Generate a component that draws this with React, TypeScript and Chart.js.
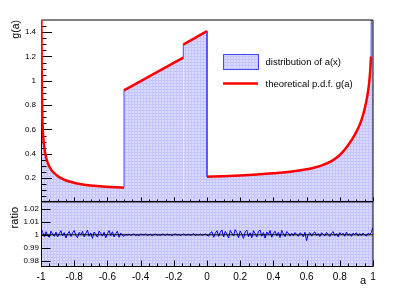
import { useEffect, useRef } from "react";
import { Chart, registerables } from "chart.js";
Chart.register(...registerables);

const W = 415;
const H = 289;
const FONT = "'Liberation Sans', Arial, Helvetica, sans-serif";

// theoretical p.d.f. g(a), piecewise
const curveLeftA = [-0.998, -0.996, -0.994, -0.992, -0.989, -0.985, -0.98, -0.974, -0.966, -0.955, -0.94, -0.92, -0.895, -0.865, -0.83, -0.79, -0.74, -0.68, -0.61, -0.55, -0.5];
const curveLeftG = [1.5, 1.12, 0.86, 0.71, 0.6, 0.515, 0.452, 0.4, 0.353, 0.31, 0.272, 0.24, 0.212, 0.19, 0.172, 0.158, 0.146, 0.137, 0.129, 0.124, 0.121];
const curveMid1A = [-0.5, -0.143];
const curveMid1G = [0.922, 1.19];
const curveMid2A = [-0.143, 0];
const curveMid2G = [1.297, 1.409];
const curveRightA = [0, 0.1, 0.2, 0.3, 0.4, 0.5, 0.6, 0.65, 0.7, 0.75, 0.8, 0.85, 0.9, 0.93, 0.95, 0.965, 0.975, 0.983, 0.988];
const curveRightG = [0.211, 0.215, 0.221, 0.229, 0.239, 0.252, 0.272, 0.287, 0.308, 0.34, 0.39, 0.47, 0.58, 0.675, 0.77, 0.87, 0.96, 1.08, 1.2];

// distribution of a(x): same shape, edge bins overflow the frame
const histLeftEdgeA = [-1];
const histLeftEdgeG = [1.6];
const histRightEdgeA = [0.99, 1];
const histRightEdgeG = [1.6, 1.6];

// ratio distribution / theory, bins of 0.01 from -1 to 1
const ratioStart = -1;
const ratioStep = 0.01;
const ratioA = [1.0055, 1.0018, 0.9986, 1.0024, 0.9994, 0.998, 1.0028, 1.0006, 0.9988, 1.0022, 0.9983, 1.001, 1.0032, 0.9991, 1.0017, 0.9975, 1.0008, 1.0026, 0.9987, 1.0015, 1.0034, 0.9995, 0.9978, 1.0019, 0.9998, 1.0027, 0.9984, 1.0011, 1.0036, 0.9989, 1.0015, 0.9973, 1.0022, 1.0003, 0.9982, 1.003, 1.0012, 0.999, 1.002, 0.9977, 1.0009, 1.0033, 0.9994, 1.0024, 0.9984, 1.0008, 1.0028, 0.9981, 1.0014, 0.9997, 0.9988];
const ratioB = [1.0004, 0.9997, 1.0006, 0.9995, 1.0002, 1.0007, 0.9996, 1.0001, 0.9994, 1.0005, 1.0003, 0.9998, 1.0008, 0.9995, 1, 1.0004, 0.9993, 1.0002, 1.0006, 0.9997, 1.0001, 0.9995, 1.0005, 1.0003, 0.9996, 1.0007, 0.9999, 1.0002, 0.9994, 1.0004, 1.0006, 0.9998, 1.0003, 0.9995, 1.0001, 1.0008, 0.9997, 1, 1.0005, 0.9996, 1.0002, 1.0009, 0.9994, 1.0003, 0.9998, 1.0006, 0.9996, 1.0001, 1.0007, 0.9997];
const ratioC = [0.999, 1.0016, 1.0024, 0.9981, 1.0012, 1.0032, 0.9988, 1.0021, 1.0038, 0.9983, 1.0027, 1.0006, 0.9975, 1.0034, 1.0013, 0.9991, 1.004, 1.0017, 0.9978, 1.003, 1.0005, 0.9972, 1.0024, 1.0036, 0.9986, 1.0016, 0.9977, 1.0032, 1.0009, 0.9984, 1.0027, 1.0037, 0.9989, 1.0018, 0.9974, 1.0022, 1.0003, 1.0033, 0.9981, 1.0012, 1.0028, 0.9993, 1.0019, 0.9979, 1.0035, 1.0008, 0.9985, 1.0025, 1.0014, 0.999];
const ratioD = [1.0012, 0.9992, 1.0018, 1.0002, 0.9988, 1.0015, 1.0007, 0.9985, 1.002, 0.9955, 1.0005, 1.0017, 0.999, 1.0013, 1.0023, 0.9994, 1.001, 0.9986, 1.0016, 1.0004, 0.9991, 1.0019, 1.0001, 0.9987, 1.0014, 1.0025, 0.9993, 1.0009, 0.9985, 1.0017, 1.0002, 1.0012, 0.9989, 1.0021, 0.9996, 1.0008, 0.9988, 1.0013, 1.0003, 1.0016, 0.9992, 1.001, 0.9994, 1.0014, 1.0001, 0.9991, 1.0012, 1.0004, 1.0018, 1.0057];
const ratioValues = [...ratioA, ...ratioB, ...ratioC, ...ratioD];
const ratioRefA = [-1, 1];
const ratioRefV = [1, 1];

// axes
const xMin = -1;
const xMax = 1;
const yTopMin = 0;
const yTopMax = 1.5;
const yRatioMin = 0.975;
const yRatioMax = 1.0255;
const xTicks = [-1, -0.8, -0.6, -0.4, -0.2, 0, 0.2, 0.4, 0.6, 0.8, 1];
const yTopTicks = [0.2, 0.4, 0.6, 0.8, 1, 1.2, 1.4];
const yRatioTicks = [0.98, 0.99, 1, 1.01, 1.02];
const legendLabels = ["distribution of a(x)", "theoretical p.d.f. g(a)"];

const pts = (xs: number[], ys: number[]) => xs.map((x, i) => ({ x, y: ys[i] }));

function makePattern(): CanvasPattern | string {
  const c = document.createElement("canvas");
  c.width = 3;
  c.height = 3;
  const g = c.getContext("2d");
  if (!g) return "rgb(206,206,255)";
  g.fillStyle = "rgb(196,196,255)";
  g.fillRect(0, 0, 3, 3);
  g.fillStyle = "rgb(218,218,255)";
  g.fillRect(0, 0, 2, 2);
  return g.createPattern(c, "repeat") || "rgb(206,206,255)";
}

const HIST_LINE = "rgb(70,70,255)";
const RED = "#ff0000";

function drawFrame(ctx: CanvasRenderingContext2D, ca: any) {
  const l = Math.round(ca.left) + 0.5;
  const r = Math.round(ca.right);
  const t = ca.top;
  const b = Math.round(ca.bottom) - 0.5;
  ctx.save();
  ctx.strokeStyle = "#000";
  ctx.lineWidth = 1;
  ctx.beginPath();
  ctx.moveTo(l, t);
  ctx.lineTo(r, t);
  ctx.lineTo(r, b);
  ctx.lineTo(l, b);
  ctx.closePath();
  ctx.stroke();
  ctx.restore();
}

function drawXTicks(ctx: CanvasRenderingContext2D, chart: any, majorLen: number, minorLen: number) {
  const xs = chart.scales.x;
  const yb = Math.round(chart.chartArea.bottom) - 0.5;
  ctx.save();
  ctx.strokeStyle = "#000";
  ctx.lineWidth = 1;
  ctx.beginPath();
  for (let k = 0; k <= 40; k++) {
    const v = xMin + k * 0.05;
    const px = Math.round(xs.getPixelForValue(v)) + 0.5;
    const len = k % 4 === 0 ? majorLen : minorLen;
    ctx.moveTo(px, yb);
    ctx.lineTo(px, yb - len);
  }
  ctx.stroke();
  ctx.restore();
}

export default function App() {
  const topRef = useRef<HTMLCanvasElement>(null);
  const botRef = useRef<HTMLCanvasElement>(null);

  useEffect(() => {
    document.body.style.margin = "0";
    const pattern = makePattern();

    const topPlugin = {
      id: "topDeco",
      afterDatasetDraw(chart: any, args: any) {
        if (chart.data.datasets[args.index].label !== "jumps") return;
        const { ctx, chartArea: ca } = chart;
        drawFrame(ctx, ca);
        const ys = chart.scales.y;
        const x0 = Math.round(ca.left);
        ctx.save();
        ctx.strokeStyle = "#000";
        ctx.lineWidth = 1;
        ctx.beginPath();
        for (let k = 1; k <= 29; k++) {
          const v = k * 0.05;
          const py = Math.round(ys.getPixelForValue(v)) + 0.5;
          const len = k % 4 === 0 ? 11 : 5.5;
          ctx.moveTo(x0, py);
          ctx.lineTo(x0 + len, py);
        }
        ctx.stroke();
        ctx.restore();
        drawXTicks(ctx, chart, 4, 2);
      },
      afterDraw(chart: any) {
        const { ctx, chartArea: ca } = chart;
        ctx.save();
        ctx.fillStyle = "#000";
        ctx.font = `10.5px ${FONT}`;
        ctx.translate(16, ca.top);
        ctx.rotate(-Math.PI / 2);
        ctx.textAlign = "right";
        ctx.textBaseline = "middle";
        ctx.fillText("g(a)", 0, 0);
        ctx.restore();
        // legend
        ctx.save();
        ctx.fillStyle = pattern as any;
        ctx.fillRect(223, 54, 35, 15);
        ctx.strokeStyle = HIST_LINE;
        ctx.lineWidth = 1;
        ctx.strokeRect(223.5, 54.5, 35, 15);
        ctx.strokeStyle = RED;
        ctx.lineWidth = 2.5;
        ctx.beginPath();
        ctx.moveTo(223, 83.5);
        ctx.lineTo(258, 83.5);
        ctx.stroke();
        ctx.fillStyle = "#000";
        ctx.font = `9.5px ${FONT}`;
        ctx.textAlign = "left";
        ctx.textBaseline = "middle";
        ctx.fillText(legendLabels[0], 265.5, 62);
        ctx.fillText(legendLabels[1], 265.5, 84);
        ctx.restore();
      },
    };

    const botPlugin = {
      id: "botDeco",
      beforeDatasetsDraw(chart: any) {
        const { ctx, chartArea: ca } = chart;
        ctx.save();
        ctx.fillStyle = pattern as any;
        ctx.fillRect(ca.left, ca.top, ca.right - ca.left, ca.bottom - ca.top);
        ctx.restore();
      },
      afterDraw(chart: any) {
        const { ctx, chartArea: ca } = chart;
        drawFrame(ctx, ca);
        const ys = chart.scales.y;
        const x0 = Math.round(ca.left);
        ctx.save();
        ctx.strokeStyle = "#000";
        ctx.lineWidth = 1;
        ctx.beginPath();
        for (const v of yRatioTicks) {
          const py = Math.round(ys.getPixelForValue(v)) + 0.5;
          ctx.moveTo(x0, py);
          ctx.lineTo(x0 + 9.5, py);
        }
        ctx.stroke();
        ctx.restore();
        drawXTicks(ctx, chart, 6, 3);
        ctx.save();
        ctx.fillStyle = "#000";
        ctx.font = `11px ${FONT}`;
        ctx.textAlign = "right";
        ctx.textBaseline = "alphabetic";
        ctx.fillText("a", 366, 284);
        ctx.translate(15, 207);
        ctx.rotate(-Math.PI / 2);
        ctx.textBaseline = "middle";
        ctx.fillText("ratio", 0, 0);
        ctx.restore();
      },
    };

    const redDs = (xs: number[], ys: number[]) => ({
      label: "g",
      data: pts(xs, ys),
      borderColor: RED,
      borderWidth: 2.5,
      pointRadius: 0,
      fill: false,
      cubicInterpolationMode: "monotone" as const,
      order: 0,
    });
    const histDs = (xs: number[], ys: number[]) => ({
      label: "hist",
      data: pts(xs, ys),
      borderColor: HIST_LINE,
      borderWidth: 1,
      backgroundColor: pattern,
      pointRadius: 0,
      fill: "origin",
      cubicInterpolationMode: "monotone" as const,
      order: 2,
    });

    const jumps = [
      { x: curveLeftA[curveLeftA.length - 1], y: curveLeftG[curveLeftG.length - 1] },
      { x: curveMid1A[0], y: curveMid1G[0] },
      { x: curveMid1A[1], y: null },
      { x: curveMid1A[1], y: curveMid1G[1] },
      { x: curveMid2A[0], y: curveMid2G[0] },
      { x: curveMid2A[1], y: null },
      { x: curveMid2A[1], y: curveMid2G[1] },
      { x: curveRightA[0], y: curveRightG[0] },
    ];

    const top = new Chart(topRef.current as HTMLCanvasElement, {
      type: "line",
      data: {
        datasets: [
          redDs(curveLeftA, curveLeftG),
          redDs(curveMid1A, curveMid1G),
          redDs(curveMid2A, curveMid2G),
          redDs(curveRightA, curveRightG),
          {
            label: "jumps",
            data: jumps as any,
            borderColor: HIST_LINE,
            borderWidth: 1,
            pointRadius: 0,
            fill: false,
            spanGaps: false,
            order: 1,
          } as any,
          histDs([...histLeftEdgeA, ...curveLeftA], [...histLeftEdgeG, ...curveLeftG]),
          histDs(curveMid1A, curveMid1G),
          histDs(curveMid2A, curveMid2G),
          histDs([...curveRightA, ...histRightEdgeA], [...curveRightG, ...histRightEdgeG]),
        ] as any,
      },
      options: {
        animation: false,
        responsive: false,
        maintainAspectRatio: false,
        events: [],
        layout: { padding: { left: 0, right: 42, top: 20, bottom: H - 202.4 } },
        plugins: { legend: { display: false }, tooltip: { enabled: false } },
        scales: {
          x: { type: "linear", min: xMin, max: xMax, display: false },
          y: {
            type: "linear",
            min: yTopMin,
            max: yTopMax,
            afterFit: (s: any) => {
              s.width = 41;
            },
            afterBuildTicks: (s: any) => {
              s.ticks = yTopTicks.map((v) => ({ value: v }));
            },
            grid: { display: false, drawTicks: false },
            border: { display: false },
            ticks: {
              padding: 5,
              color: "#000",
              font: { family: FONT, size: 8 },
              callback: (v: any) => String(v),
            },
          },
        },
      },
      plugins: [topPlugin],
    });

    const bot = new Chart(botRef.current as HTMLCanvasElement, {
      type: "line",
      data: {
        datasets: [
          {
            label: "one",
            data: pts(ratioRefA, ratioRefV),
            borderColor: "#000",
            borderWidth: 1,
            pointRadius: 0,
            fill: false,
            order: 0,
          },
          {
            label: "ratio",
            data: ratioValues.map((v, i) => ({ x: ratioStart + i * ratioStep, y: v })),
            borderColor: "#0000ff",
            borderWidth: 1,
            pointRadius: 0,
            fill: false,
            order: 1,
          },
        ],
      },
      options: {
        animation: false,
        responsive: false,
        maintainAspectRatio: false,
        events: [],
        layout: { padding: { left: 0, right: 42, top: 202, bottom: 0 } },
        plugins: { legend: { display: false }, tooltip: { enabled: false } },
        scales: {
          x: {
            type: "linear",
            min: xMin,
            max: xMax,
            afterFit: (s: any) => {
              s.height = 22;
            },
            afterBuildTicks: (s: any) => {
              s.ticks = xTicks.map((v) => ({ value: v }));
            },
            grid: { display: false, drawTicks: false },
            border: { display: false },
            ticks: {
              padding: 4,
              autoSkip: false,
              maxRotation: 0,
              color: "#000",
              font: { family: FONT, size: 10 },
              callback: (v: any) => String(v),
            },
          },
          y: {
            type: "linear",
            min: yRatioMin,
            max: yRatioMax,
            afterFit: (s: any) => {
              s.width = 41;
            },
            afterBuildTicks: (s: any) => {
              s.ticks = yRatioTicks.map((v) => ({ value: v }));
            },
            grid: { display: false, drawTicks: false },
            border: { display: false },
            ticks: {
              padding: 2,
              color: "#000",
              font: { family: FONT, size: 8 },
              callback: (v: any) => String(v),
            },
          },
        },
      },
      plugins: [botPlugin],
    });

    return () => {
      top.destroy();
      bot.destroy();
    };
  }, []);

  return (
    <div style={{ position: "relative", width: W, height: H, background: "#fff" }}>
      <canvas ref={botRef} width={W} height={H} style={{ position: "absolute", left: 0, top: 0 }} />
      <canvas ref={topRef} width={W} height={H} style={{ position: "absolute", left: 0, top: 0 }} />
    </div>
  );
}
